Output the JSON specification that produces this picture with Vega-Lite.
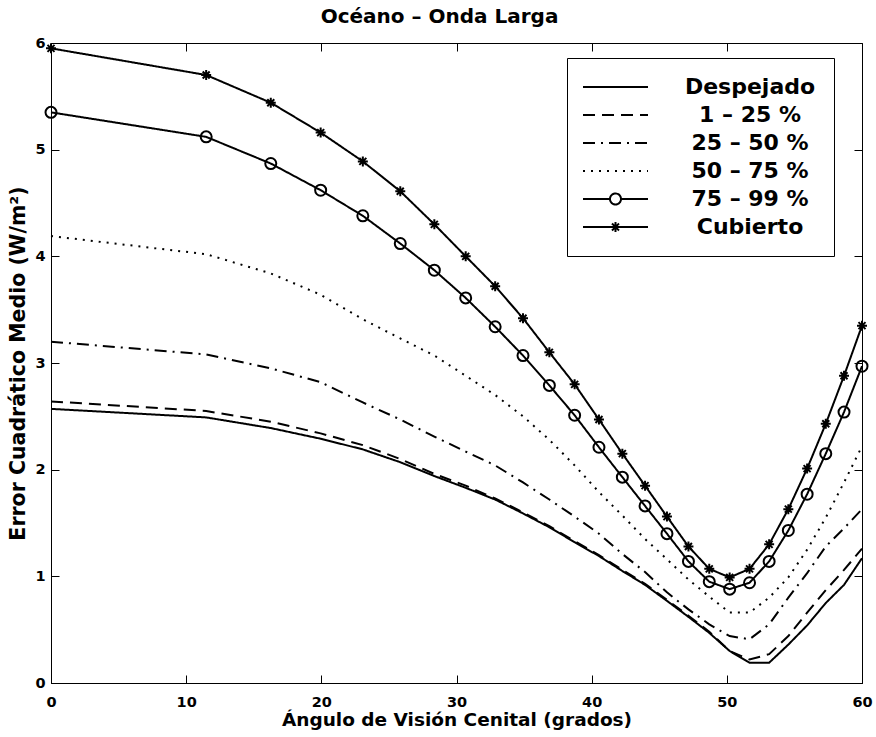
{
  "$schema": "https://vega.github.io/schema/vega-lite/v6.json",
  "width": 811,
  "height": 640,
  "autosize": "none",
  "padding": {"left": 51, "top": 43, "right": 14, "bottom": 54},
  "background": "white",
  "title": {"text": "Océano – Onda Larga", "font": "DejaVu Sans", "fontSize": 20, "fontWeight": "bold", "color": "black", "offset": 8, "dx": -17, "anchor": "middle"},
  "config": {
    "font": "DejaVu Sans",
    "view": {"stroke": "black", "strokeWidth": 1},
    "axis": {
      "labelFont": "DejaVu Sans", "labelFontWeight": "bold", "labelFontSize": 14.5, "labelColor": "black",
      "titleFont": "DejaVu Sans", "titleFontWeight": "bold", "titleFontSize": 18.5, "titleColor": "black",
      "tickColor": "black", "tickSize": -8, "tickWidth": 1, "domainColor": "black", "domainWidth": 1, "grid": false,
      "labelFlush": false
    },
    "legend": {
      "title": null,
      "orient": "none",
      "legendX": 516,
      "legendY": 15,
      "padding": 18,
      "rowPadding": 6,
      "symbolSize": 100,
      "symbolOffset": 19.5,
      "labelOffset": 123.5,
      "labelAlign": "center",
      "labelFont": "DejaVu Sans",
      "labelFontSize": 22,
      "labelFontWeight": "bold",
      "labelColor": "black",
      "strokeColor": "black",
      "fillColor": "white",
      "symbolStrokeColor": "black",
      "symbolStrokeWidth": 2,
      "symbolFillColor": "white",
      "symbolOpacity": 1
    }
  },
  "datasets": {
    "curves": [
      {"angle": 0, "series": "Despejado", "rmse": 2.57},
      {"angle": 11.48, "series": "Despejado", "rmse": 2.49},
      {"angle": 16.26, "series": "Despejado", "rmse": 2.39},
      {"angle": 19.95, "series": "Despejado", "rmse": 2.29},
      {"angle": 23.07, "series": "Despejado", "rmse": 2.19},
      {"angle": 25.84, "series": "Despejado", "rmse": 2.07},
      {"angle": 28.36, "series": "Despejado", "rmse": 1.94},
      {"angle": 30.68, "series": "Despejado", "rmse": 1.83},
      {"angle": 32.86, "series": "Despejado", "rmse": 1.72},
      {"angle": 34.92, "series": "Despejado", "rmse": 1.59},
      {"angle": 36.87, "series": "Despejado", "rmse": 1.46},
      {"angle": 38.74, "series": "Despejado", "rmse": 1.32},
      {"angle": 40.54, "series": "Despejado", "rmse": 1.19},
      {"angle": 42.27, "series": "Despejado", "rmse": 1.05},
      {"angle": 43.95, "series": "Despejado", "rmse": 0.92},
      {"angle": 45.57, "series": "Despejado", "rmse": 0.77},
      {"angle": 47.16, "series": "Despejado", "rmse": 0.62},
      {"angle": 48.70, "series": "Despejado", "rmse": 0.47},
      {"angle": 50.21, "series": "Despejado", "rmse": 0.30},
      {"angle": 51.68, "series": "Despejado", "rmse": 0.19},
      {"angle": 53.13, "series": "Despejado", "rmse": 0.19},
      {"angle": 54.55, "series": "Despejado", "rmse": 0.36},
      {"angle": 55.94, "series": "Despejado", "rmse": 0.54},
      {"angle": 57.32, "series": "Despejado", "rmse": 0.75},
      {"angle": 58.67, "series": "Despejado", "rmse": 0.92},
      {"angle": 60, "series": "Despejado", "rmse": 1.17},

      {"angle": 0, "series": "1 – 25 %", "rmse": 2.64},
      {"angle": 11.48, "series": "1 – 25 %", "rmse": 2.55},
      {"angle": 16.26, "series": "1 – 25 %", "rmse": 2.45},
      {"angle": 19.95, "series": "1 – 25 %", "rmse": 2.34},
      {"angle": 23.07, "series": "1 – 25 %", "rmse": 2.23},
      {"angle": 25.84, "series": "1 – 25 %", "rmse": 2.10},
      {"angle": 28.36, "series": "1 – 25 %", "rmse": 1.96},
      {"angle": 30.68, "series": "1 – 25 %", "rmse": 1.85},
      {"angle": 32.86, "series": "1 – 25 %", "rmse": 1.73},
      {"angle": 34.92, "series": "1 – 25 %", "rmse": 1.60},
      {"angle": 36.87, "series": "1 – 25 %", "rmse": 1.47},
      {"angle": 38.74, "series": "1 – 25 %", "rmse": 1.33},
      {"angle": 40.54, "series": "1 – 25 %", "rmse": 1.20},
      {"angle": 42.27, "series": "1 – 25 %", "rmse": 1.06},
      {"angle": 43.95, "series": "1 – 25 %", "rmse": 0.93},
      {"angle": 45.57, "series": "1 – 25 %", "rmse": 0.78},
      {"angle": 47.16, "series": "1 – 25 %", "rmse": 0.63},
      {"angle": 48.70, "series": "1 – 25 %", "rmse": 0.48},
      {"angle": 50.21, "series": "1 – 25 %", "rmse": 0.30},
      {"angle": 51.68, "series": "1 – 25 %", "rmse": 0.22},
      {"angle": 53.13, "series": "1 – 25 %", "rmse": 0.27},
      {"angle": 54.55, "series": "1 – 25 %", "rmse": 0.44},
      {"angle": 55.94, "series": "1 – 25 %", "rmse": 0.66},
      {"angle": 57.32, "series": "1 – 25 %", "rmse": 0.87},
      {"angle": 58.67, "series": "1 – 25 %", "rmse": 1.06},
      {"angle": 60, "series": "1 – 25 %", "rmse": 1.26},

      {"angle": 0, "series": "25 – 50 %", "rmse": 3.20},
      {"angle": 11.48, "series": "25 – 50 %", "rmse": 3.08},
      {"angle": 16.26, "series": "25 – 50 %", "rmse": 2.95},
      {"angle": 19.95, "series": "25 – 50 %", "rmse": 2.82},
      {"angle": 23.07, "series": "25 – 50 %", "rmse": 2.63},
      {"angle": 25.84, "series": "25 – 50 %", "rmse": 2.47},
      {"angle": 28.36, "series": "25 – 50 %", "rmse": 2.31},
      {"angle": 30.68, "series": "25 – 50 %", "rmse": 2.17},
      {"angle": 32.86, "series": "25 – 50 %", "rmse": 2.04},
      {"angle": 34.92, "series": "25 – 50 %", "rmse": 1.88},
      {"angle": 36.87, "series": "25 – 50 %", "rmse": 1.72},
      {"angle": 38.74, "series": "25 – 50 %", "rmse": 1.56},
      {"angle": 40.54, "series": "25 – 50 %", "rmse": 1.40},
      {"angle": 42.27, "series": "25 – 50 %", "rmse": 1.21},
      {"angle": 43.95, "series": "25 – 50 %", "rmse": 1.04},
      {"angle": 45.57, "series": "25 – 50 %", "rmse": 0.85},
      {"angle": 47.16, "series": "25 – 50 %", "rmse": 0.69},
      {"angle": 48.70, "series": "25 – 50 %", "rmse": 0.55},
      {"angle": 50.21, "series": "25 – 50 %", "rmse": 0.44},
      {"angle": 51.68, "series": "25 – 50 %", "rmse": 0.41},
      {"angle": 53.13, "series": "25 – 50 %", "rmse": 0.55},
      {"angle": 54.55, "series": "25 – 50 %", "rmse": 0.80},
      {"angle": 55.94, "series": "25 – 50 %", "rmse": 1.03},
      {"angle": 57.32, "series": "25 – 50 %", "rmse": 1.28},
      {"angle": 58.67, "series": "25 – 50 %", "rmse": 1.45},
      {"angle": 60, "series": "25 – 50 %", "rmse": 1.63},

      {"angle": 0, "series": "50 – 75 %", "rmse": 4.19},
      {"angle": 11.48, "series": "50 – 75 %", "rmse": 4.02},
      {"angle": 16.26, "series": "50 – 75 %", "rmse": 3.84},
      {"angle": 19.95, "series": "50 – 75 %", "rmse": 3.64},
      {"angle": 23.07, "series": "50 – 75 %", "rmse": 3.41},
      {"angle": 25.84, "series": "50 – 75 %", "rmse": 3.23},
      {"angle": 28.36, "series": "50 – 75 %", "rmse": 3.07},
      {"angle": 30.68, "series": "50 – 75 %", "rmse": 2.88},
      {"angle": 32.86, "series": "50 – 75 %", "rmse": 2.70},
      {"angle": 34.92, "series": "50 – 75 %", "rmse": 2.50},
      {"angle": 36.87, "series": "50 – 75 %", "rmse": 2.28},
      {"angle": 38.74, "series": "50 – 75 %", "rmse": 2.04},
      {"angle": 40.54, "series": "50 – 75 %", "rmse": 1.79},
      {"angle": 42.27, "series": "50 – 75 %", "rmse": 1.57},
      {"angle": 43.95, "series": "50 – 75 %", "rmse": 1.35},
      {"angle": 45.57, "series": "50 – 75 %", "rmse": 1.16},
      {"angle": 47.16, "series": "50 – 75 %", "rmse": 0.97},
      {"angle": 48.70, "series": "50 – 75 %", "rmse": 0.81},
      {"angle": 50.21, "series": "50 – 75 %", "rmse": 0.66},
      {"angle": 51.68, "series": "50 – 75 %", "rmse": 0.66},
      {"angle": 53.13, "series": "50 – 75 %", "rmse": 0.80},
      {"angle": 54.55, "series": "50 – 75 %", "rmse": 0.99},
      {"angle": 55.94, "series": "50 – 75 %", "rmse": 1.25},
      {"angle": 57.32, "series": "50 – 75 %", "rmse": 1.55},
      {"angle": 58.67, "series": "50 – 75 %", "rmse": 1.88},
      {"angle": 60, "series": "50 – 75 %", "rmse": 2.22},

      {"angle": 0, "series": "75 – 99 %", "rmse": 5.35},
      {"angle": 11.48, "series": "75 – 99 %", "rmse": 5.12},
      {"angle": 16.26, "series": "75 – 99 %", "rmse": 4.87},
      {"angle": 19.95, "series": "75 – 99 %", "rmse": 4.62},
      {"angle": 23.07, "series": "75 – 99 %", "rmse": 4.38},
      {"angle": 25.84, "series": "75 – 99 %", "rmse": 4.12},
      {"angle": 28.36, "series": "75 – 99 %", "rmse": 3.87},
      {"angle": 30.68, "series": "75 – 99 %", "rmse": 3.61},
      {"angle": 32.86, "series": "75 – 99 %", "rmse": 3.34},
      {"angle": 34.92, "series": "75 – 99 %", "rmse": 3.07},
      {"angle": 36.87, "series": "75 – 99 %", "rmse": 2.79},
      {"angle": 38.74, "series": "75 – 99 %", "rmse": 2.51},
      {"angle": 40.54, "series": "75 – 99 %", "rmse": 2.21},
      {"angle": 42.27, "series": "75 – 99 %", "rmse": 1.93},
      {"angle": 43.95, "series": "75 – 99 %", "rmse": 1.66},
      {"angle": 45.57, "series": "75 – 99 %", "rmse": 1.40},
      {"angle": 47.16, "series": "75 – 99 %", "rmse": 1.14},
      {"angle": 48.70, "series": "75 – 99 %", "rmse": 0.95},
      {"angle": 50.21, "series": "75 – 99 %", "rmse": 0.88},
      {"angle": 51.68, "series": "75 – 99 %", "rmse": 0.94},
      {"angle": 53.13, "series": "75 – 99 %", "rmse": 1.14},
      {"angle": 54.55, "series": "75 – 99 %", "rmse": 1.43},
      {"angle": 55.94, "series": "75 – 99 %", "rmse": 1.77},
      {"angle": 57.32, "series": "75 – 99 %", "rmse": 2.15},
      {"angle": 58.67, "series": "75 – 99 %", "rmse": 2.54},
      {"angle": 60, "series": "75 – 99 %", "rmse": 2.97},

      {"angle": 0, "series": "Cubierto", "rmse": 5.95},
      {"angle": 11.48, "series": "Cubierto", "rmse": 5.70},
      {"angle": 16.26, "series": "Cubierto", "rmse": 5.44},
      {"angle": 19.95, "series": "Cubierto", "rmse": 5.16},
      {"angle": 23.07, "series": "Cubierto", "rmse": 4.89},
      {"angle": 25.84, "series": "Cubierto", "rmse": 4.61},
      {"angle": 28.36, "series": "Cubierto", "rmse": 4.30},
      {"angle": 30.68, "series": "Cubierto", "rmse": 4.00},
      {"angle": 32.86, "series": "Cubierto", "rmse": 3.72},
      {"angle": 34.92, "series": "Cubierto", "rmse": 3.42},
      {"angle": 36.87, "series": "Cubierto", "rmse": 3.10},
      {"angle": 38.74, "series": "Cubierto", "rmse": 2.80},
      {"angle": 40.54, "series": "Cubierto", "rmse": 2.47},
      {"angle": 42.27, "series": "Cubierto", "rmse": 2.15},
      {"angle": 43.95, "series": "Cubierto", "rmse": 1.85},
      {"angle": 45.57, "series": "Cubierto", "rmse": 1.56},
      {"angle": 47.16, "series": "Cubierto", "rmse": 1.28},
      {"angle": 48.70, "series": "Cubierto", "rmse": 1.07},
      {"angle": 50.21, "series": "Cubierto", "rmse": 0.99},
      {"angle": 51.68, "series": "Cubierto", "rmse": 1.07},
      {"angle": 53.13, "series": "Cubierto", "rmse": 1.30},
      {"angle": 54.55, "series": "Cubierto", "rmse": 1.63},
      {"angle": 55.94, "series": "Cubierto", "rmse": 2.01},
      {"angle": 57.32, "series": "Cubierto", "rmse": 2.43},
      {"angle": 58.67, "series": "Cubierto", "rmse": 2.88},
      {"angle": 60, "series": "Cubierto", "rmse": 3.35}
    ]
  },
  "data": {"name": "curves"},
  "resolve": {"axis": {"x": "independent", "y": "independent"}},
  "layer": [
    {
      "mark": {"type": "line", "color": "black", "strokeWidth": 2},
      "encoding": {
        "x": {"field": "angle", "type": "quantitative",
              "scale": {"domain": [0, 60], "nice": false, "zero": false},
              "axis": {"orient": "bottom", "values": [0, 10, 20, 30, 40, 50, 60], "title": "Ángulo de Visión Cenital (grados)", "labelPadding": 20, "titlePadding": 2}},
        "y": {"field": "rmse", "type": "quantitative",
              "scale": {"domain": [0, 6], "nice": false, "zero": false},
              "axis": {"orient": "left", "values": [0, 1, 2, 3, 4, 5, 6], "title": "Error Cuadrático Medio (W/m²)", "titleFontSize": 20.5, "labelPadding": 14, "titlePadding": 6}},
        "strokeDash": {
          "field": "series", "type": "nominal",
          "scale": {
            "domain": ["Despejado", "1 – 25 %", "25 – 50 %", "50 – 75 %", "75 – 99 %", "Cubierto"],
            "range": [[1, 0], [12, 7], [12, 6, 2, 6], [2, 6], [1, 0], [1, 0]]
          }
        }
      }
    },
    {
      "mark": {"type": "point", "opacity": 0, "filled": false, "color": "black"},
      "encoding": {
        "x": {"field": "angle", "type": "quantitative", "axis": null},
        "y": {"field": "rmse", "type": "quantitative", "axis": null},
        "shape": {
          "field": "series", "type": "nominal",
          "scale": {
            "domain": ["Despejado", "1 – 25 %", "25 – 50 %", "50 – 75 %", "75 – 99 %", "Cubierto"],
            "range": [
              "M-6.5,0H6.5",
              "M-6.5,0H6.5",
              "M-6.5,0H6.5",
              "M-6.5,0H6.5",
              "M-6.5,0H-1.1M1.1,0H6.5M1.1,0A1.1,1.1,0,1,1,-1.1,0A1.1,1.1,0,1,1,1.1,0",
              "M-6.5,0H6.5M0,-1V1M-0.7,-0.7L0.7,0.7M-0.7,0.7L0.7,-0.7"
            ]
          }
        }
      }
    },
    {
      "transform": [{"filter": "datum.series === '75 – 99 %'"}],
      "mark": {"type": "point", "shape": "circle", "filled": false, "stroke": "black", "strokeWidth": 2, "size": 121, "opacity": 1},
      "encoding": {
        "x": {"field": "angle", "type": "quantitative", "axis": null},
        "y": {"field": "rmse", "type": "quantitative", "axis": null}
      }
    },
    {
      "transform": [{"filter": "datum.series === 'Cubierto'"}],
      "mark": {"type": "point", "shape": "M-1,0H1M0,-1V1M-0.7,-0.7L0.7,0.7M-0.7,0.7L0.7,-0.7", "filled": false, "stroke": "black", "strokeWidth": 2, "size": 100, "opacity": 1},
      "encoding": {
        "x": {"field": "angle", "type": "quantitative", "axis": null},
        "y": {"field": "rmse", "type": "quantitative", "axis": null}
      }
    },
    {
      "mark": {"type": "point", "opacity": 0},
      "encoding": {
        "x": {"field": "angle", "type": "quantitative",
              "axis": {"orient": "top", "values": [0, 10, 20, 30, 40, 50, 60], "labels": false, "title": null, "domain": false}},
        "y": {"field": "rmse", "type": "quantitative",
              "axis": {"orient": "right", "values": [0, 1, 2, 3, 4, 5, 6], "labels": false, "title": null, "domain": false}}
      }
    }
  ]
}
